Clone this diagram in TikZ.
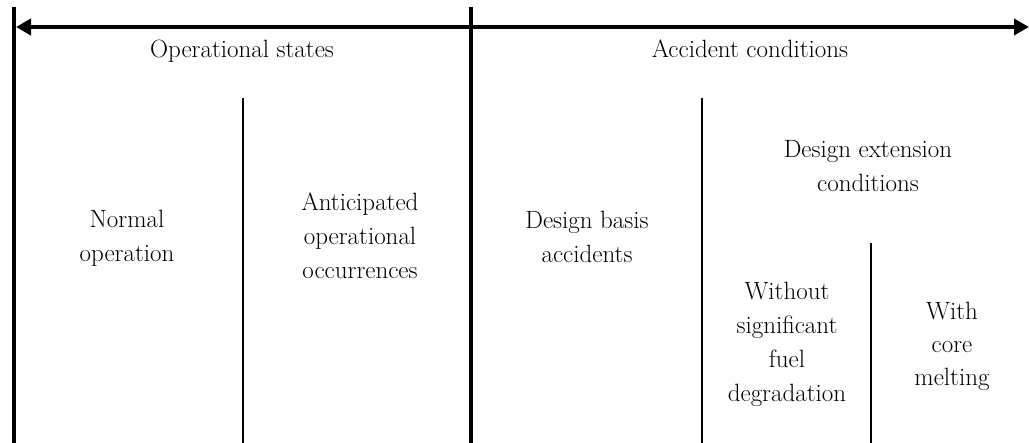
\documentclass[tikz,border=0pt]{standalone}
\usepackage{fontspec}
\usetikzlibrary{arrows.meta}
\begin{document}
\begin{tikzpicture}[x=1pt,y=-1pt,
  thickline/.style={line width=4.6pt},
  thinline/.style={line width=2.4pt},
  span/.style={line width=4.4pt,-{Triangle[length=15pt,width=16pt]}},
  lbl/.style={align=center,anchor=base,font=\fontsize{25}{34}\selectfont,inner sep=0pt}]
  \useasboundingbox (0,0) rectangle (1029,443);
  % main boundaries
  \coordinate (lt) at (14,7);   \coordinate (lb) at (14,443);
  \coordinate (mt) at (471,7);  \coordinate (mb) at (471,443);
  \coordinate (re) at (1029,27);
  \coordinate (ma) at (471,27); \coordinate (la) at (16,27);
  \draw[thickline] (lt) -- (lb);
  \draw[thickline] (mt) -- (mb);
  % range arrows
  \draw[span] (ma) -- (la);
  \draw[span] (ma) -- (re);
  % inner dividers
  \coordinate (d1t) at (243,98);  \coordinate (d1b) at (243,443);
  \coordinate (d2t) at (702,98);  \coordinate (d2b) at (702,443);
  \coordinate (d3t) at (871,243); \coordinate (d3b) at (871,443);
  \draw[thinline] (d1t) -- (d1b);
  \draw[thinline] (d2t) -- (d2b);
  \draw[thinline] (d3t) -- (d3b);
  % labels (base anchor sits on the baseline of the last line)
  \node[lbl] (ops) at (242,58) {Operational states};
  \node[lbl] (acc) at (750,58) {Accident conditions};
  \node[lbl] (norm) at (127,262) {Normal\\operation};
  \node[lbl] (aoo) at (360,279) {Anticipated\\operational\\occurrences};
  \node[lbl] (dba) at (587,263) {Design basis\\accidents};
  \node[lbl] (dec) at (868,192) {Design extension\\conditions};
  \node[lbl] (wo) at (787,402) {Without\\significant\\fuel\\degradation};
  \node[lbl,font=\fontsize{25}{33}\selectfont] (wc) at (952,386) {With\\core\\melting};
\end{tikzpicture}
\end{document}
